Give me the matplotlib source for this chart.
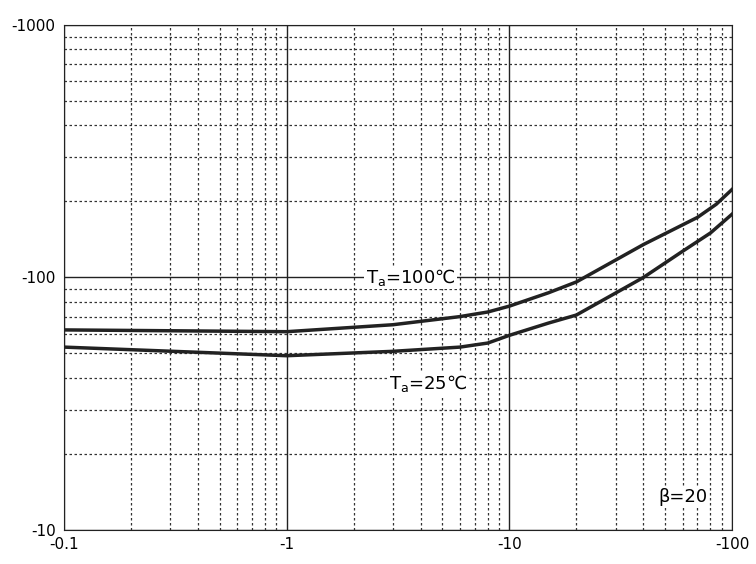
import matplotlib
matplotlib.use("Agg")
import matplotlib.pyplot as plt
from matplotlib.ticker import FixedLocator, LogLocator, NullFormatter

plt.rcParams['font.family'] = ['DejaVu Sans', 'Noto Sans CJK SC']

x100 = [0.1, 1, 3, 6, 8, 10, 15, 20, 40, 70, 85, 100]
y100 = [62, 61, 65, 70, 73, 77, 87, 96, 135, 173, 195, 223]
x25 = [0.1, 1, 3, 6, 8, 10, 15, 20, 40, 60, 80, 100]
y25 = [53, 49, 51, 53, 55, 59, 66, 71, 100, 127, 150, 178]

xticks = [0.1, 1, 10, 100]
xlabels = ['-0.1', '-1', '-10', '-100']
yticks = [10, 100, 1000]
ylabels = ['-10', '-100', '-1000']

fig = plt.figure(figsize=(7.56, 5.64), dpi=100)
ax = fig.add_axes([0.0847, 0.0603, 0.8835, 0.8954])
ax.set_xscale('log'); ax.set_yscale('log')
ax.set_xlim(0.1, 100); ax.set_ylim(10, 1000)
ax.plot(x100, y100, color='#222222', lw=2.5)
ax.plot(x25, y25, color='#222222', lw=2.5)
ax.xaxis.set_major_locator(FixedLocator(xticks))
ax.set_xticklabels(xlabels)
ax.yaxis.set_major_locator(FixedLocator(yticks))
ax.set_yticklabels(ylabels)
ax.xaxis.set_minor_locator(LogLocator(subs=range(2, 10)))
ax.yaxis.set_minor_locator(LogLocator(subs=range(2, 10)))
ax.xaxis.set_minor_formatter(NullFormatter())
ax.yaxis.set_minor_formatter(NullFormatter())
ax.grid(which='major', color='#222222', lw=1)
ax.grid(which='minor', color='#333333', lw=0.9, ls=(0, (2, 2)))
ax.tick_params(which='both', length=0, labelsize=11)
ax.tick_params(axis='x', pad=5)
ax.tick_params(axis='y', pad=6)
for s in ax.spines.values():
    s.set_color('#222222')
ax.text(3.6, 100, r'T$_\mathregular{a}$=100℃', ha='center', va='center', fontsize=13,
        bbox=dict(facecolor='white', edgecolor='none', pad=1))
ax.text(4.3, 38, r'T$_\mathregular{a}$=25℃', ha='center', va='center', fontsize=13,
        bbox=dict(facecolor='white', edgecolor='none', pad=1))
ax.text(60, 13.5, 'β=20', ha='center', va='center', fontsize=13,
        bbox=dict(facecolor='white', edgecolor='none', pad=1))
fig.savefig('out.png', dpi=100)
